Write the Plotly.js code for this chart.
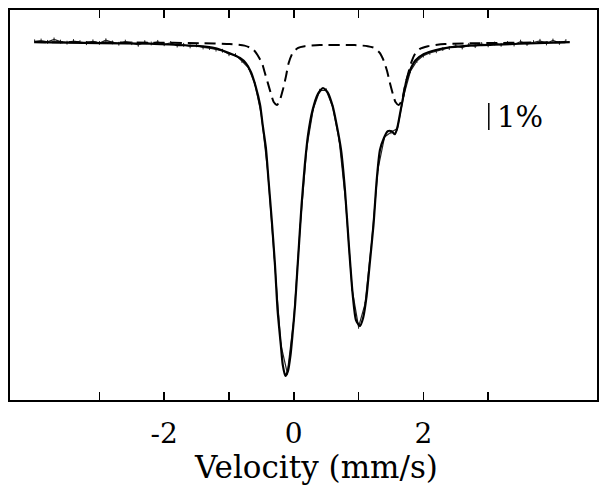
<!DOCTYPE html>
<html>
<head>
<meta charset="utf-8">
<script src="https://cdn.plot.ly/plotly-3.0.1.min.js"></script>
<style>html,body{margin:0;padding:0;background:#fff;}#chart{width:605px;height:494px;}</style>
</head>
<body>
<div id="chart"></div>
<script>
// Velocity (mm/s) and relative transmission (%)
const fitVel = [-4.00,-2.99,-2.22,-1.76,-1.45,-1.22,-0.99,-0.83,-0.74,-0.66,-0.59,-0.52,-0.48,-0.43,-0.39,-0.34,-0.29,-0.25,-0.20,-0.17,-0.13,-0.09,-0.05,-0.02,0.02,0.05,0.08,0.12,0.17,0.22,0.29,0.37,0.45,0.52,0.60,0.66,0.73,0.79,0.85,0.91,0.96,1.02,1.07,1.12,1.17,1.23,1.28,1.33,1.39,1.45,1.51,1.56,1.60,1.65,1.70,1.74,1.81,1.88,2.01,2.18,2.41,2.87,3.49,4.26];
const fitTrans = [100.00,99.96,99.94,99.89,99.85,99.78,99.59,99.41,99.22,98.89,98.37,97.67,96.93,96.07,94.89,93.41,91.74,90.07,88.78,88.04,87.63,87.81,88.41,89.15,90.26,91.37,92.48,93.96,95.44,96.56,97.48,98.07,98.30,98.15,97.63,96.96,96.00,94.52,92.48,90.63,89.70,89.48,89.78,90.52,91.74,93.22,94.89,96.00,96.44,96.70,96.70,96.59,96.85,97.48,98.11,98.59,99.04,99.33,99.56,99.70,99.81,99.89,99.94,100.00];

const compVel = [-4.00,-2.22,-1.45,-0.99,-0.76,-0.63,-0.56,-0.49,-0.45,-0.40,-0.35,-0.31,-0.26,-0.22,-0.17,-0.12,-0.08,-0.02,0.06,0.17,0.40,0.94,1.14,1.25,1.33,1.39,1.44,1.48,1.53,1.57,1.62,1.67,1.71,1.76,1.81,1.87,1.94,2.07,2.33,2.87,4.26];
const compTrans = [100.00,99.98,99.96,99.93,99.87,99.74,99.52,99.22,98.89,98.48,98.07,97.78,97.67,97.81,98.22,98.74,99.22,99.59,99.78,99.85,99.89,99.89,99.85,99.78,99.59,99.30,98.93,98.52,98.07,97.78,97.67,97.85,98.30,98.78,99.22,99.56,99.74,99.85,99.93,99.96,100.00];

const dataVel = [-4.0,-3.9,-3.8,-3.7,-3.6,-3.5,-3.4,-3.3,-3.2,-3.1,-3.0,-2.9,-2.8,-2.7,-2.6,-2.5,-2.4,-2.3,-2.2,-2.1,-2.0,-1.9,-1.8,-1.7,-1.6,-1.5,-1.4,-1.3,-1.2,-1.1,-1.0,-0.9,-0.8,-0.7,-0.6,-0.5,-0.4,-0.3,-0.2,-0.1,0.0,0.1,0.2,0.3,0.4,0.5,0.6,0.7,0.8,0.9,1.0,1.1,1.2,1.3,1.4,1.5,1.6,1.7,1.8,1.9,2.0,2.1,2.2,2.3,2.4,2.5,2.6,2.7,2.8,2.9,3.0,3.1,3.2,3.3,3.4,3.5,3.6,3.7,3.8,3.9,4.0,4.1,4.2];
const dataTrans = [100.03,100.06,100.01,100.10,100.02,99.98,100.04,100.00,99.96,100.03,99.97,100.07,99.99,99.94,100.02,99.96,99.90,100.00,99.95,100.01,99.92,99.97,99.87,99.90,99.84,99.88,99.80,99.78,99.72,99.68,99.55,99.52,99.30,99.05,98.45,97.30,95.15,92.05,88.80,87.74,89.72,93.20,96.08,97.52,98.20,98.22,97.60,96.38,94.10,90.85,89.45,90.30,92.55,95.30,96.48,96.66,96.80,98.05,98.92,99.30,99.50,99.60,99.66,99.74,99.78,99.86,99.80,99.90,99.85,99.93,99.88,99.95,99.90,99.97,99.91,100.02,99.93,100.00,100.05,99.95,100.06,99.97,100.04];

const xTicks = [-3,-2,-1,0,1,2,3];
const xTickText = ['','-2','','0','','2',''];
const scaleBarVel = [3.01,3.01];
const scaleBarTrans = [97.74,96.74];
const scaleLabel = '1%';
const xTitle = 'Velocity (mm/s)';

const serif = '"DejaVu Serif", "Liberation Serif", serif';

const traces = [
  {x: dataVel, y: dataTrans, type:'scatter', mode:'lines', line:{color:'#222', width:1.2},
   error_y:{type:'constant', value:0.07, color:'#222', thickness:1, width:0}, hoverinfo:'skip'},
  {x: compVel, y: compTrans, type:'scatter', mode:'lines', line:{color:'#000', width:2, dash:'11px,6px', shape:'spline', smoothing:0.6}},
  {x: fitVel, y: fitTrans, type:'scatter', mode:'lines', line:{color:'#000', width:2.2, shape:'spline', smoothing:0.6}},
  {x: scaleBarVel, y: scaleBarTrans, type:'scatter', mode:'lines', line:{color:'#000', width:1.5}}
];

const layout = {
  width:605, height:494,
  margin:{l:10, r:8, t:10, b:94},
  paper_bgcolor:'#fff', plot_bgcolor:'#fff',
  showlegend:false,
  font:{family:serif, color:'#000'},
  xaxis:{range:[-4.38,4.68], tickmode:'array', tickvals:xTicks, ticktext:xTickText,
         ticks:'inside', ticklen:8, tickwidth:1.5, tickcolor:'#000',
         showline:true, linewidth:2, linecolor:'#000', mirror:'ticks',
         showgrid:false, zeroline:false, tickfont:{size:28, family:serif},
         ticklabelstandoff:7},
  yaxis:{range:[86.74,101.19], showline:true, linewidth:2, linecolor:'#000', mirror:true,
         ticks:'', showticklabels:false, showgrid:false, zeroline:false},
  annotations:[
    {x:3.10, y:97.22, xref:'x', yref:'y', text:scaleLabel, showarrow:false,
     xanchor:'left', yanchor:'middle', font:{size:29, family:serif}},
    {x:0.521, y:-0.172, xref:'paper', yref:'paper', text:xTitle, showarrow:false,
     xanchor:'center', yanchor:'middle', font:{size:31, family:serif}}
  ]
};

Plotly.newPlot('chart', traces, layout, {staticPlot:true, displayModeBar:false});
</script>
</body>
</html>
